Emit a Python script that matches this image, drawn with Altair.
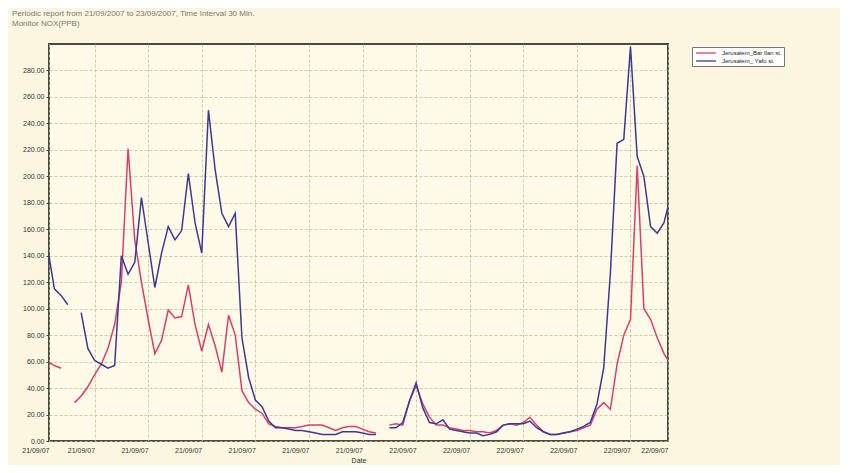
import altair as alt
import pandas as pd
import numpy as np

# half-hour sample index
idx = list(range(0, 94))

bar_ilan = [60, 57, 55, None, 29, 34, 41, 50, 58, 70,
            88, 120, 221, 152, 120, 92, 66, 76, 99, 93,
            94, 118, 88, 68, 88, 72, 52, 95, 80, 38,
            29, 24, 21, 13, 11, 10, 10, 10, 11, 12,
            12, 12, 10, 8, 10, 11, 11, 9, 7, 6,
            None, 12, 13, 12, 30, 42, 28, 18, 12, 12,
            10, 9, 8, 8, 7, 7, 6, 8, 12, 13,
            12, 14, 18, 12, 7, 5, 5, 6, 7, 8,
            10, 12, 24, 29, 24, 58, 80, 92, 208, 100,
            92, 78, 66, 58]

yafo = [146, 115, 110, 103, None, 97, 70, 61, 58, 55,
        57, 140, 126, 135, 184, 150, 116, 142, 162, 152,
        159, 202, 165, 142, 250, 205, 172, 162, 172, 78,
        48, 31, 26, 15, 10, 10, 9, 8, 8, 7,
        6, 5, 5, 5, 7, 7, 7, 6, 5, 5,
        None, 10, 10, 14, 30, 44, 25, 14, 13, 16,
        9, 8, 7, 6, 6, 4, 5, 7, 12, 13,
        13, 13, 15, 10, 7, 5, 5, 6, 7, 9,
        11, 14, 28, 55, 127, 225, 228, 298, 215, 200,
        162, 157, 165, 185]

series_names = ["Jerusalem_Bar Ilan st.", "Jerusalem_ Yafo st."]
series_colors = ["#d8406a", "#3a3a96"]

x_tick_values = [0.2, 7, 15, 23, 31, 39, 47, 55, 63, 71, 79, 87, 92.6]
x_tick_labels = ["21/09/07"] * 7 + ["22/09/07"] * 6
y_tick_values = list(range(0, 300, 20))

rows = []
for name, vals in zip(series_names, [bar_ilan, yafo]):
    for i, v in zip(idx, vals):
        rows.append({"idx": i, "value": (np.nan if v is None else v), "station": name})
df = pd.DataFrame(rows)

label_expr = "datum.value < 50 ? '21/09/07' : '22/09/07'"

font = "Liberation Sans"

chart = alt.Chart(df).mark_line(strokeWidth=1.5, clip=True, invalid="break-paths-show-domains").encode(
    x=alt.X("idx:Q",
            scale=alt.Scale(domain=[0.2, 92.6], nice=False, zero=False),
            axis=alt.Axis(values=x_tick_values, labelExpr=label_expr, title="Date",
                          labelAlign="right", labelOverlap=False, labelFlush=False,
                          ticks=False, domain=False, labelPadding=5,
                          titleFontSize=7, titleFontWeight="normal", titlePadding=3,
                          gridColor="#c4bc98", gridDash=[3, 2], gridWidth=0.8)),
    y=alt.Y("value:Q",
            scale=alt.Scale(domain=[0, 300], nice=False),
            axis=alt.Axis(values=y_tick_values, format=".2f", title=None, domain=False,
                          tickSize=3, tickColor="#444", labelPadding=2,
                          gridColor="#c4bc98", gridDash=[3, 2], gridWidth=0.8)),
    color=alt.Color("station:N",
                    scale=alt.Scale(domain=series_names, range=series_colors),
                    legend=alt.Legend(title=None, orient="none", legendX=643, legendY=3,
                                      fillColor="white", strokeColor="#777", padding=2,
                                      symbolType="M-3.3,0L3.3,0", symbolSize=36,
                                      symbolStrokeWidth=1.3, symbolOffset=8,
                                      labelOffset=12,
                                      labelFontSize=6, labelFont=font, rowPadding=1,
                                      labelColor="#222", labelLimit=200)),
).properties(
    width=619,
    height=397,
    title=alt.TitleParams(
        text=["Periodic report from 21/09/2007 to 23/09/2007, Time Interval 30 Min.",
              "Monitor NOX(PPB)"],
        anchor="start", frame="group", dx=-37, offset=16,
        fontSize=8, font=font, fontWeight="normal", color="#777", lineHeight=10),
    autosize=alt.AutoSizeParams(type="none"),
    padding={"left": 41, "top": 36, "right": 172, "bottom": 24},
    background="#fbf6df",
).configure_view(
    fill="#fffbe8", stroke="#4a4a42", strokeWidth=2,
).configure_axis(
    labelFont=font, labelFontSize=7, labelColor="#333", titleFont=font, titleColor="#333",
)

chart.save("out.html", embed_options={"renderer": "svg", "actions": False})
